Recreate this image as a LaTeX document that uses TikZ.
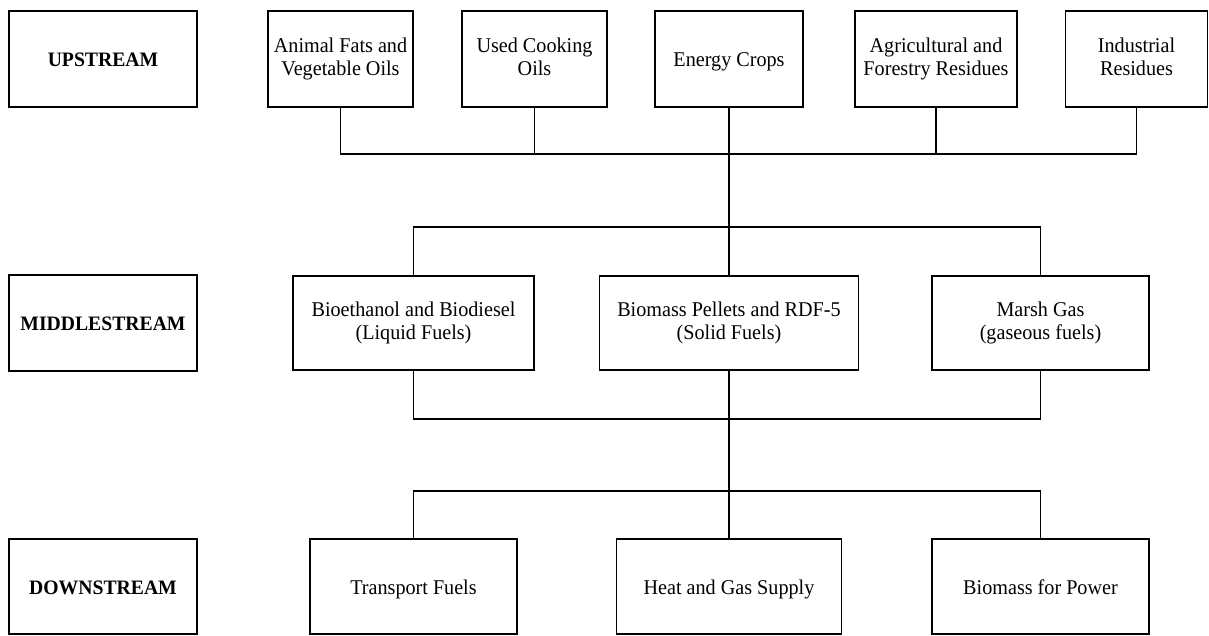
\documentclass[tikz,border=0pt]{standalone}
\usepackage{fontspec}
\setmainfont{Liberation Serif}[FakeStretch=0.96]
% struts that give every label the same top and bottom
\newcommand{\topstrut}{\rule{0pt}{20.2pt}}
\newcommand{\botstrut}{\rule[-5pt]{0pt}{5pt}}
\begin{document}
\begin{tikzpicture}[x=1pt,y=-1pt,
  box/.style={draw, line width=1.6pt, inner sep=0pt, align=center,
    font=\fontsize{21}{23}\selectfont,
    execute at begin node=\topstrut, execute at end node=\botstrut},
  stage/.style={box, font=\fontsize{20.5}{23}\selectfont\bfseries},
  link/.style={line width=1.6pt}]
\useasboundingbox (0,0) rectangle (1209,635);

% stage labels
\node[stage, minimum width=188pt, minimum height=96pt] (up)   at (103,59)  {UPSTREAM};
\node[stage, minimum width=188pt, minimum height=96pt] (mid)  at (103,323) {MIDDLESTREAM};
\node[stage, minimum width=188pt, minimum height=95pt] (down) at (103,586.5) {DOWNSTREAM};

% upstream feedstocks
\node[box, minimum width=145pt, minimum height=96pt] (a1) at (340.5,59) {Animal Fats and\\Vegetable Oils};
\node[box, minimum width=145pt, minimum height=96pt] (a2) at (534.5,59) {Used Cooking\\Oils};
\node[box, minimum width=148pt, minimum height=96pt] (a3) at (729,59)   {Energy Crops};
\node[box, minimum width=162pt, minimum height=96pt] (a4) at (936,59)   {Agricultural and\\Forestry Residues};
\node[box, minimum width=142pt, minimum height=96pt] (a5) at (1136.5,59) {Industrial\\Residues};

% middlestream products
\node[box, minimum width=241pt, minimum height=94pt] (b1) at (413.5,323) {Bioethanol and Biodiesel\\(Liquid Fuels)};
\node[box, minimum width=259pt, minimum height=94pt] (b2) at (729,323)   {Biomass Pellets and RDF-5\\(Solid Fuels)};
\node[box, minimum width=217pt, minimum height=94pt] (b3) at (1040.5,323) {Marsh Gas\\(gaseous fuels)};

% downstream uses
\node[box, minimum width=207pt, minimum height=95pt] (c1) at (413.5,586.5) {Transport Fuels};
\node[box, minimum width=225pt, minimum height=95pt] (c2) at (729,586.5)   {Heat and Gas Supply};
\node[box, minimum width=217pt, minimum height=95pt] (c3) at (1040.5,586.5) {Biomass for Power};

% bus lines
\coordinate (ubus) at (729,154);
\coordinate (mbus) at (729,227);
\coordinate (lbus) at (729,419);
\coordinate (dbus) at (729,491);

% feedstocks gathered into one line
\draw[link] (a1.south) |- (ubus) -| (a5.south);
\draw[link] (a2.south) -- (a2.south |- ubus);
\draw[link] (a4.south) -- (a4.south |- ubus);
\draw[link] (a3.south) -- (b2.north);

% split into the three fuel types
\draw[link] (b1.north) |- (mbus) -| (b3.north);

% fuel types gathered again
\draw[link] (b1.south) |- (lbus) -| (b3.south);
\draw[link] (b2.south) -- (c2.north);

% split into the end uses
\draw[link] (c1.north) |- (dbus) -| (c3.north);
\end{tikzpicture}
\end{document}
